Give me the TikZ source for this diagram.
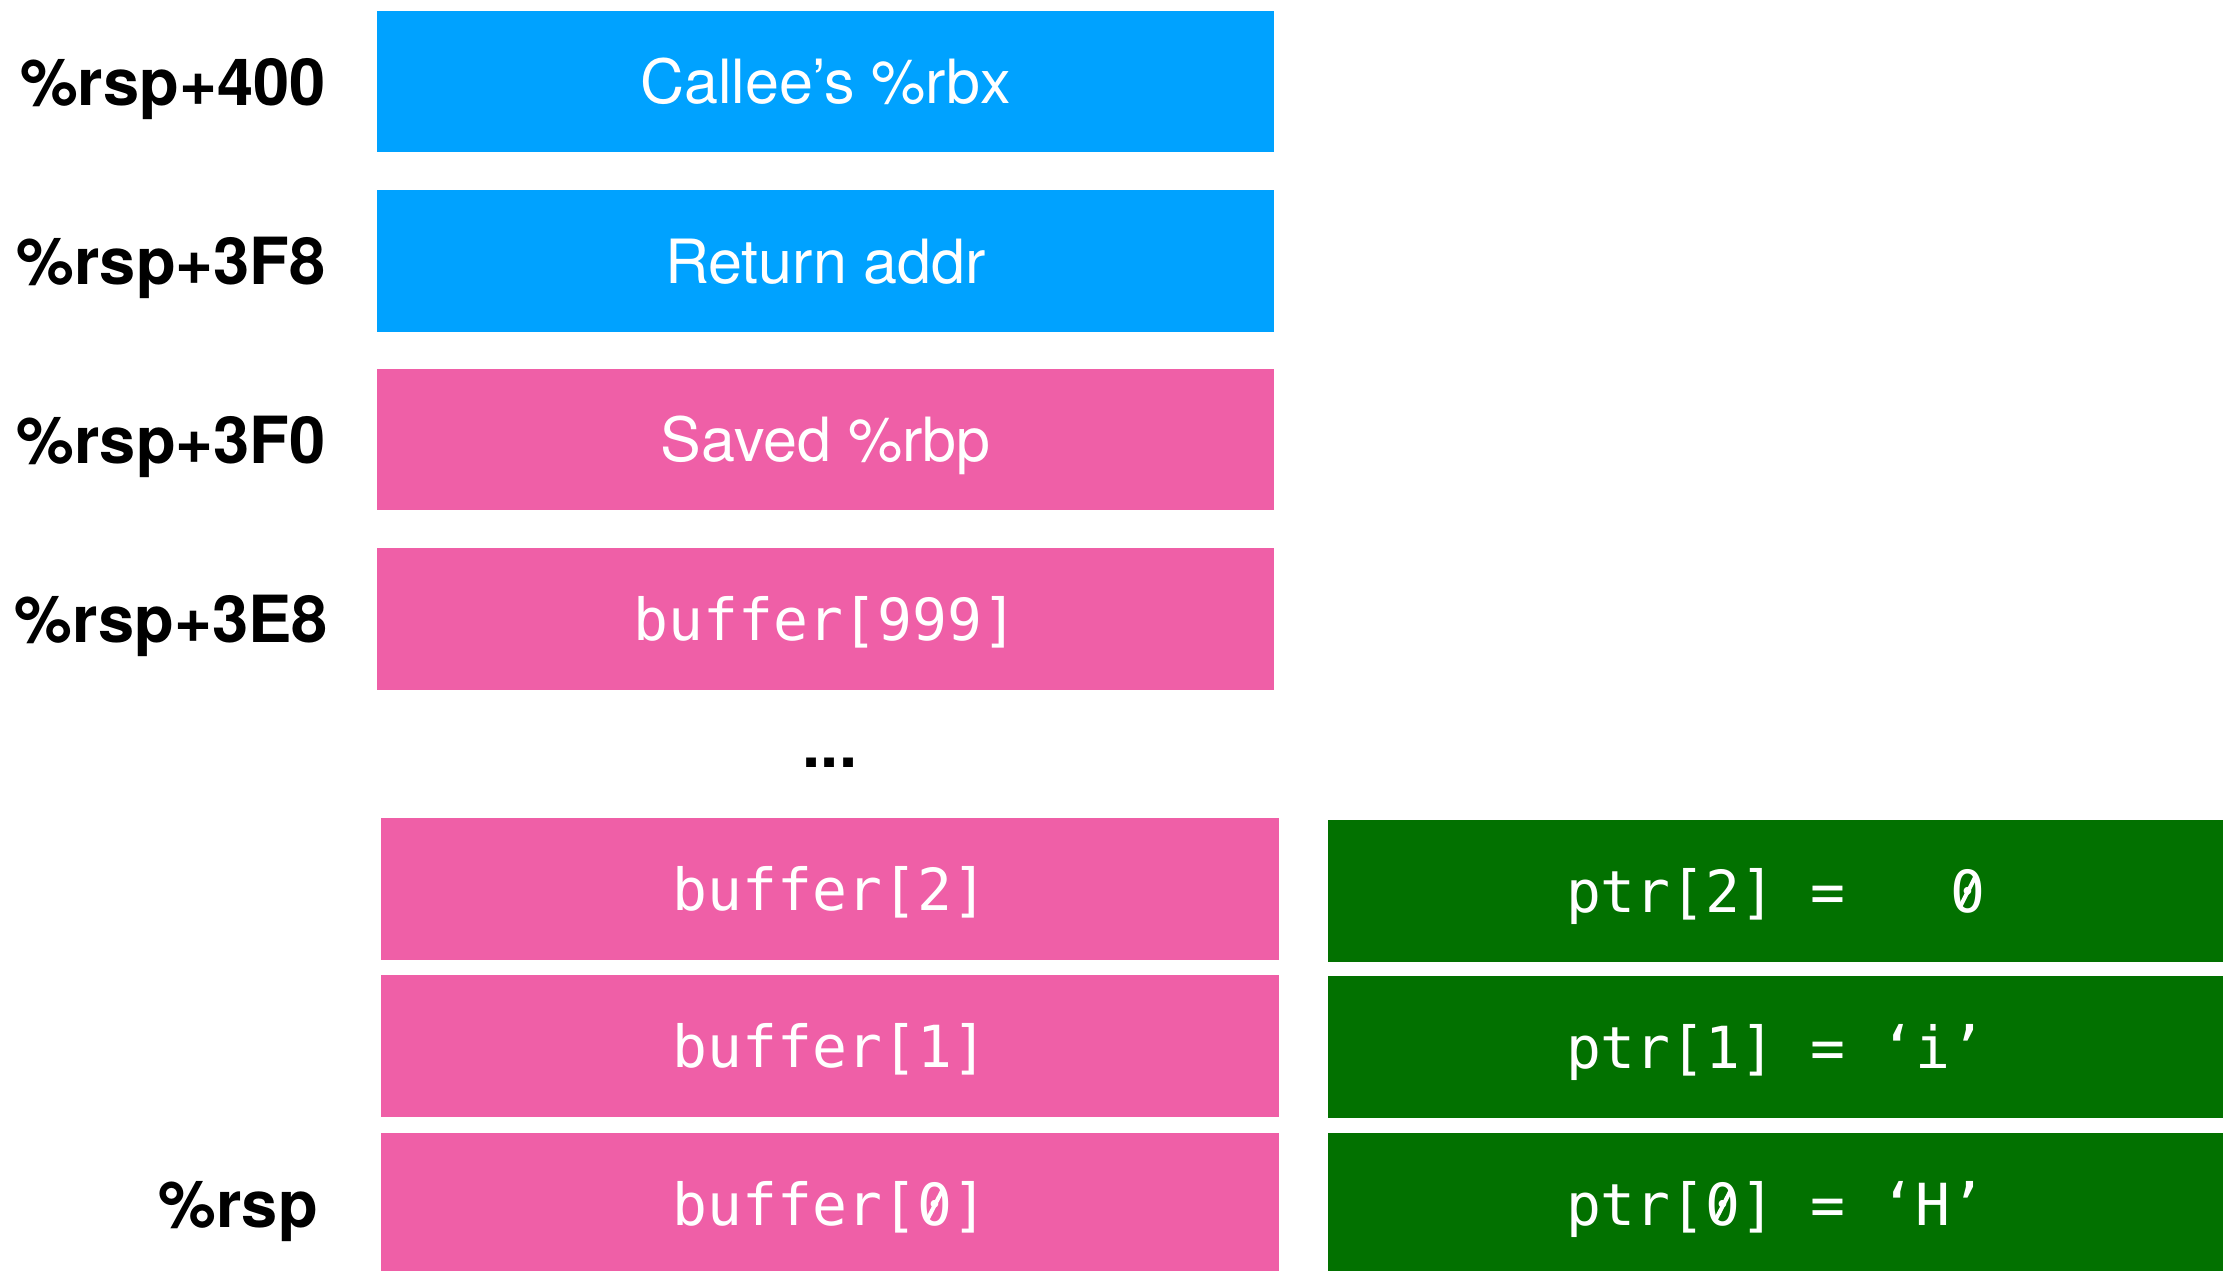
\documentclass[tikz,border=0pt]{standalone}
\usepackage{fontspec}
\setmainfont{TeX Gyre Heros}
\newfontfamily\codefont{DejaVu Sans Mono}
\definecolor{kblue}{RGB}{0,162,255}
\definecolor{kpink}{RGB}{239,95,167}
\definecolor{kgreen}{RGB}{2,113,0}
\newcommand{\szero}{\rlap{0}\makebox[0.602em]{\raisebox{0.11em}{\rotatebox{-27}{\rule{0.07em}{0.56em}}}}}
\begin{document}
\begin{tikzpicture}[x=1pt,y=-1pt,
  cell/.style={anchor=north west, inner sep=0pt, outer sep=0pt, text=white,
    font=\fontsize{61}{61}\selectfont, text height=44pt, text depth=0pt},
  codecell/.style={cell, font=\codefont\fontsize{58}{58}\selectfont, text height=42pt},
  bluecell/.style={cell, fill=kblue, minimum width=897pt},
  pinkcell/.style={cell, fill=kpink, minimum width=897pt},
  pinkcode/.style={codecell, fill=kpink, minimum width=898pt},
  greencode/.style={codecell, fill=kgreen, minimum width=895pt},
  addr/.style={anchor=east, inner sep=0pt, font=\bfseries\fontsize{65}{65}\selectfont,
    text height=47pt, text depth=0pt}]
\useasboundingbox (0,0) rectangle (2223,1270);
\fill[white] (0,0) rectangle (2223,1270);

\node[bluecell, minimum height=141pt] (rbx) at (377,11) {Callee’s \%rbx};
\node[bluecell, minimum height=142pt] (ret) at (377,190) {Return addr};
\node[pinkcell, minimum height=141pt] (rbp) at (377,369) {Saved \%rbp};
\node[pinkcode, minimum height=142pt, minimum width=897pt] (b999) at (377,548) {buffer[999]};

\node[anchor=base, inner sep=0pt, font=\bfseries\fontsize{65}{65}\selectfont] (dots) at (830,767) {...};

\node[pinkcode, minimum height=142pt] (b2) at (381,818) {buffer[2]};
\node[pinkcode, minimum height=142pt] (b1) at (381,975) {buffer[1]};
\node[pinkcode, minimum height=142pt] (b0) at (381,1133) {buffer[\szero]};

\node[greencode, minimum height=142pt] (p2) at (1328,820) {ptr[2] =\ \ \ \szero};
\node[greencode, minimum height=142pt] (p1) at (1328,976) {ptr[1] = ‘i’};
\node[greencode, minimum height=142pt] (p0) at (1328,1133) {ptr[\szero] = ‘H’};

\node[addr] (a400) at (326,81.5) {\%rsp+400};
\node[addr] (a3f8) at (326,261) {\%rsp+3F8};
\node[addr] (a3f0) at (326,439.5) {\%rsp+3F0};
\node[addr] (a3e8) at (328,619) {\%rsp+3E8};
\node[addr] (arsp) at (318,1204) {\%rsp};
\end{tikzpicture}
\end{document}
